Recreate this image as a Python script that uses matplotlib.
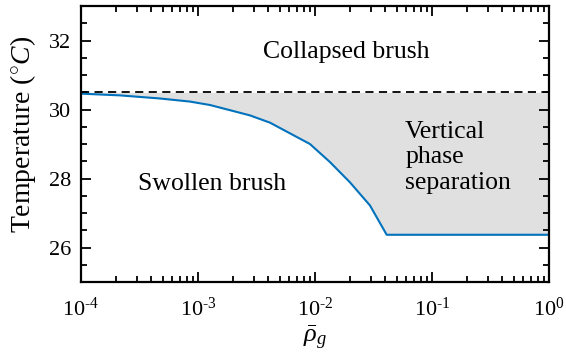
import matplotlib
matplotlib.use('Agg')
import matplotlib.pyplot as plt
import numpy as np

plt.rcParams['font.family'] = 'Liberation Serif'
plt.rcParams['mathtext.fontset'] = 'custom'
plt.rcParams['mathtext.rm'] = 'Liberation Serif'
plt.rcParams['mathtext.it'] = 'Liberation Serif:italic'

# phase boundary
rho_g = [1e-4, 2.15e-4, 4.73e-4, 8.55e-4, 1.27e-3, 1.88e-3, 2.78e-3, 4.12e-3,
         6.11e-3, 9.06e-3, 0.0134, 0.0199, 0.0295, 0.0410, 1.0]
temp = [30.46, 30.41, 30.32, 30.23, 30.13, 29.98, 29.83, 29.62,
        29.31, 29.00, 28.48, 27.89, 27.22, 26.37, 26.37]
t_collapse = 30.5

x_ticks = [1e-4, 1e-3, 1e-2, 1e-1, 1e0]
x_ticklabels = ['10$^{\\text{-4}}$', '10$^{\\text{-3}}$', '10$^{\\text{-2}}$',
                '10$^{\\text{-1}}$', '10$^{\\text{0}}$']
y_ticks = [26, 28, 30, 32]

fig = plt.figure(figsize=(5.66, 3.53), dpi=100)
ax = fig.add_axes([0.143, 0.201, 0.827, 0.782])

ax.fill_between(rho_g, temp, t_collapse, color='#e0e0e0', lw=0)
ax.plot(rho_g, temp, color='#0072BD', lw=1.5)
ax.axhline(t_collapse, color='black', lw=1.3, ls=(0, (4.5, 3)))

ax.set_xscale('log')
ax.set_xlim(1e-4, 1)
ax.set_ylim(25, 33)
ax.set_xticks(x_ticks)
ax.set_xticklabels(x_ticklabels)
ax.set_yticks(y_ticks)
ax.yaxis.set_minor_locator(matplotlib.ticker.MultipleLocator(0.5))
ax.xaxis.set_minor_locator(matplotlib.ticker.LogLocator(base=10, subs=np.arange(2, 10)))
ax.xaxis.set_minor_formatter(matplotlib.ticker.NullFormatter())

for s in ax.spines.values():
    s.set_linewidth(1.6)
ax.tick_params(which='both', direction='in', top=True, right=True, width=1.3, labelsize=16)
ax.tick_params(which='major', length=7)
ax.tick_params(which='minor', length=4)
ax.tick_params(axis='x', pad=11)
ax.tick_params(axis='y', pad=7)

ax.set_xlabel(r'$\bar{\rho}_g$', fontsize=19)
ax.xaxis.set_label_coords(0.5, -0.15)
ax.set_ylabel(r'Temperature ($^{\circ}C$)', fontsize=20)
ax.yaxis.set_label_coords(-0.092, 0.533)

ax.text(0.0184, 31.68, 'Collapsed brush', fontsize=18.5, ha='center', va='center')
ax.text(1.32e-3, 27.85, 'Swollen brush', fontsize=18.5, ha='center', va='center')
ax.text(0.059, 28.62, 'Vertical\nphase\nseparation', fontsize=18.5, ha='left', va='center',
        linespacing=1.2)

fig.savefig('out.png', dpi=100)
